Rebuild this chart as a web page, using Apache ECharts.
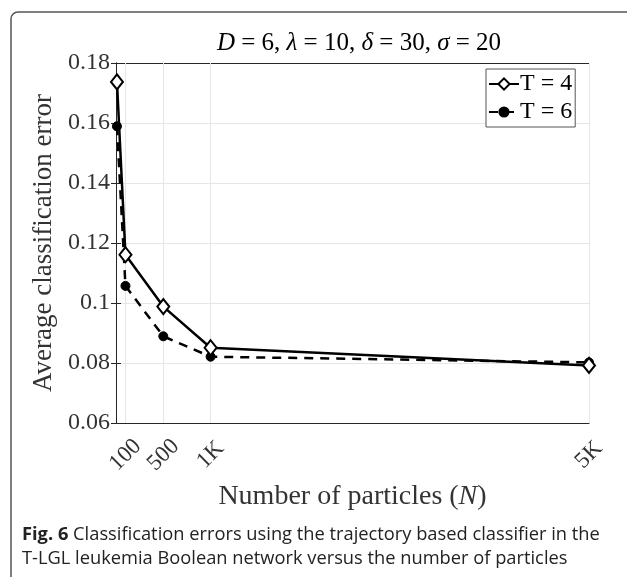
<!DOCTYPE html>
<html>
<head>
<meta charset="utf-8">
<script src="https://cdn.jsdelivr.net/npm/echarts@6/dist/echarts.min.js"></script>
<style>
html,body{margin:0;padding:0;background:#fff;}
#chart{width:627px;height:577px;}
</style>
</head>
<body>
<div id="chart"></div>
<script>
const nValues = [10, 100, 500, 1000, 5000];
const errT4 = [0.1737, 0.1161, 0.0988, 0.0851, 0.0792];
const errT6 = [0.1589, 0.1057, 0.0889, 0.0821, 0.0802];
const xTicks = [100, 500, 1000, 5000];
const xTickLabels = ['100', '500', '1K', '5K'];
const seriesNames = ['T = 4', 'T = 6'];

const serif = '"Liberation Serif", "DejaVu Serif", serif';
const axisColor = '#262626';
const gridColor = '#e6e6e6';

const chart = echarts.init(document.getElementById('chart'));
const labelMap = {};
xTicks.forEach((v, i) => { labelMap[v] = xTickLabels[i]; });

const option = {
  animation: false,
  backgroundColor: '#fff',
  title: {
    text: '{i|D} = 6, {i|λ} = 10, {i|δ} = 30, {i|σ} = 20',
    left: 354, textAlign: 'center', top: 26,
    textStyle: {
      fontFamily: serif, fontSize: 25, fontWeight: 'normal', color: '#000',
      rich: { i: { fontFamily: serif, fontSize: 25, fontStyle: 'italic', color: '#000' } }
    }
  },
  grid: { left: 116, top: 63, right: 38, bottom: 154, containLabel: false },
  legend: {
    data: seriesNames,
    orient: 'vertical',
    left: 486, top: 69,
    itemWidth: 30, itemHeight: 14, itemGap: 4,
    padding: [3, 3, 3, 2],
    borderColor: '#555', borderWidth: 1, backgroundColor: '#fff',
    textStyle: { fontFamily: serif, fontSize: 24, color: '#000', padding: [0, 0, 0, -4] }
  },
  xAxis: [{
    type: 'value', min: 0, max: 5000,
    name: 'Number of particles ({i|N})',
    nameLocation: 'middle', nameGap: 60,
    nameTextStyle: { fontFamily: serif, fontSize: 28, color: '#333',
      rich: { i: { fontFamily: serif, fontSize: 28, fontStyle: 'italic', color: '#333' } } },
    axisLine: { show: true, lineStyle: { color: axisColor, width: 1 } },
    axisTick: { show: true, inside: true, length: 5, customValues: xTicks, lineStyle: { color: axisColor } },
    axisLabel: {
      customValues: xTicks, rotate: 45, margin: 32,
      align: 'center', verticalAlign: 'middle',
      fontFamily: serif, fontSize: 23, color: '#333',
      formatter: v => labelMap[v] || ''
    },
    splitLine: { show: false }
  }, {
    type: 'value', min: 0, max: 5000, position: 'top',
    axisLine: { show: true, lineStyle: { color: axisColor, width: 1 } },
    axisTick: { show: true, inside: true, length: 5, customValues: xTicks, lineStyle: { color: axisColor } },
    axisLabel: { show: false },
    splitLine: { show: false }
  }],
  yAxis: [{
    type: 'value', min: 0.06, max: 0.18, interval: 0.02,
    name: 'Average classification error',
    nameLocation: 'middle', nameGap: 57,
    nameTextStyle: { fontFamily: serif, fontSize: 27, color: '#333' },
    axisLine: { show: true, lineStyle: { color: axisColor, width: 1 } },
    axisTick: { show: true, inside: true, length: 5, lineStyle: { color: axisColor } },
    axisLabel: { fontFamily: serif, fontSize: 24, color: '#333', margin: 6 },
    splitLine: { show: true, lineStyle: { color: gridColor, width: 1 } }
  }, {
    type: 'value', min: 0.06, max: 0.18, interval: 0.02, position: 'right',
    axisLine: { show: true, lineStyle: { color: axisColor, width: 1 } },
    axisTick: { show: true, inside: true, length: 5, lineStyle: { color: axisColor } },
    axisLabel: { show: false },
    splitLine: { show: false }
  }],
  series: [{
    name: seriesNames[0], type: 'line',
    data: nValues.map((n, i) => [n, errT4[i]]),
    symbol: 'diamond', symbolSize: [12, 15],
    lineStyle: { color: '#000', width: 2.5 },
    itemStyle: { color: '#fff', borderColor: '#000', borderWidth: 2 },
    z: 4,
    markLine: {
      silent: true, symbol: 'none', label: { show: false },
      lineStyle: { color: gridColor, width: 1, type: 'solid' },
      data: xTicks.map(v => ({ xAxis: v })),
      z: 1
    }
  }, {
    name: seriesNames[1], type: 'line',
    data: nValues.map((n, i) => [n, errT6[i]]),
    symbol: 'circle', symbolSize: 9,
    lineStyle: { color: '#000', width: 2.5, type: [9, 7] },
    itemStyle: { color: '#000', borderColor: '#000' },
    z: 3
  }],
  graphic: [{
    type: 'rect', silent: true,
    shape: { x: 11, y: 12, width: 700, height: 700, r: 7 },
    style: { fill: 'none', stroke: '#555', lineWidth: 1.5 }
  }, {
    type: 'text', left: 22, top: 523,
    style: {
      text: '{b|Fig. 6} Classification errors using the trajectory based classifier in the\nT-LGL leukemia Boolean network versus the number of particles',
      fontFamily: '"Open Sans", "Noto Sans", sans-serif', fontSize: 18.3, fill: '#222', lineHeight: 24,
      rich: { b: { fontFamily: '"Open Sans", "Noto Sans", sans-serif', fontSize: 18.3, fontWeight: 'bold', fill: '#222' } }
    }
  }]
};
chart.setOption(option);
</script>
</body>
</html>
